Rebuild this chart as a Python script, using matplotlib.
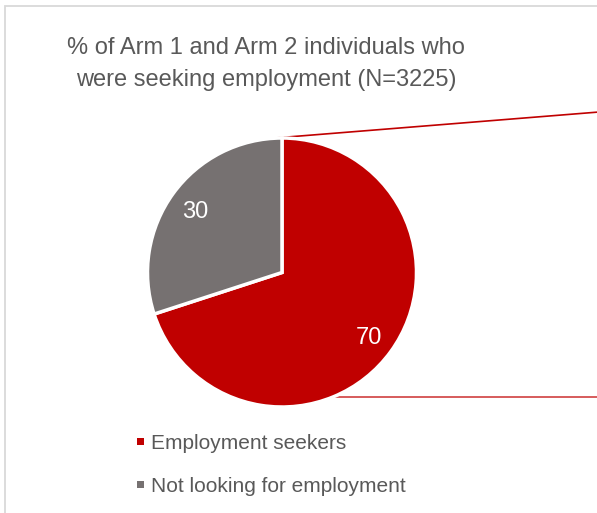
import matplotlib
matplotlib.use("Agg")
import matplotlib.pyplot as plt
from matplotlib.patches import Rectangle

plt.rcParams['font.family'] = ['Liberation Sans', 'DejaVu Sans']

title_lines = ["% of Arm 1 and Arm 2 individuals who",
               "were seeking employment (N=3225)"]
categories = ["Employment seekers", "Not looking for employment"]
values = [70, 30]
colors = ["#C00000", "#767171"]

W, H = 597, 513
fig = plt.figure(figsize=(W / 100, H / 100), dpi=100)
ax = fig.add_axes([0, 0, 1, 1])
ax.set_xlim(0, W)
ax.set_ylim(0, H)
ax.set_aspect('equal')
ax.axis('off')

# chart area frame (runs off the right and bottom edges)
ax.add_patch(Rectangle((5, -20), W + 20, H - 6 + 20, fill=False,
                       edgecolor="#D9D9D9", linewidth=1.3, zorder=0))

cx, cy, r = 282, H - 272.5, 134.5

# connector lines toward the secondary plot
ax.plot([cx - 7, W + 2], [cy + r, cy + r + 26], color="#C00000", lw=1.2, zorder=1)
ax.plot([cx + 51, W + 2], [cy - 124.5, cy - 124.5], color="#C00000", lw=1.2,
        alpha=0.75, zorder=1)

wedges, texts = ax.pie(values, colors=colors, startangle=90, counterclock=False,
                       center=(cx, cy), radius=r,
                       wedgeprops=dict(edgecolor="white", linewidth=2.5),
                       labels=[str(v) for v in values], labeldistance=0.8,
                       textprops=dict(color="white", fontsize=17))
for w in wedges:
    w.set_zorder(2)
for t in texts:
    t.set_zorder(3)
    t.set_ha('center')
    t.set_va('center_baseline')

# two-line title, baselines 33 px apart
for i, line in enumerate(title_lines):
    ax.text(266, H - 53.5 - 32.7 * i, line, ha='center', va='baseline',
            fontsize=17, color="#595959")

# legend
leg_y = [441.5, 484.5]
for name, col, yy in zip(categories, colors, leg_y):
    ax.add_patch(Rectangle((137, H - yy - 3.5), 7, 7, facecolor=col,
                           edgecolor='none'))
    ax.text(151, H - yy, name, ha='left', va='center_baseline', fontsize=15,
            color="#595959")

ax.set_xlim(0, W)
ax.set_ylim(0, H)
fig.savefig("out.png", dpi=100)
